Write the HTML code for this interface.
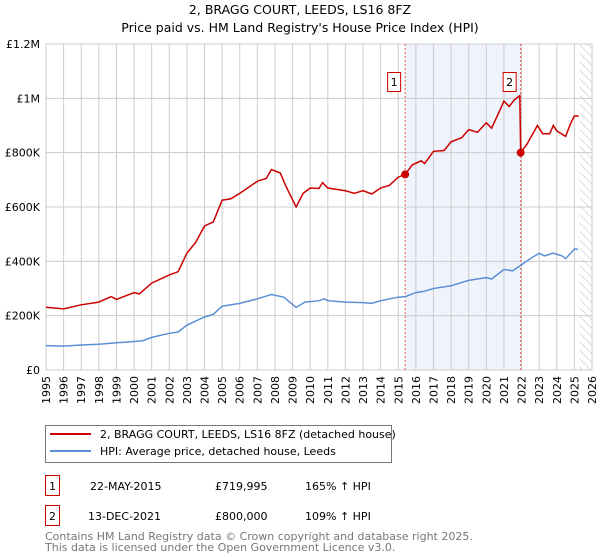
<!DOCTYPE html>
<html><head><meta charset="utf-8"><style>
body{margin:0;width:600px;height:560px;background:#fff;font-family:"DejaVu Sans","Liberation Sans",sans-serif;overflow:hidden}
svg{position:absolute;left:0;top:0}
</style></head><body>
<svg id="c" width="600" height="560">
<text x="300" y="14" text-anchor="middle" font-size="12.5">2, BRAGG COURT, LEEDS, LS16 8FZ</text>
<text x="300" y="32" text-anchor="middle" font-size="12.5">Price paid vs. HM Land Registry's House Price Index (HPI)</text>
<g id="plot"></g>
<g>
<rect x="45.5" y="425.5" width="346" height="37" fill="#fff" stroke="#777"/>
<line x1="50" y1="434" x2="91" y2="434" stroke="#cc0000" stroke-width="2"/>
<text x="100" y="438" font-size="11">2, BRAGG COURT, LEEDS, LS16 8FZ (detached house)</text>
<line x1="50" y1="451" x2="91" y2="451" stroke="#5b8fd6" stroke-width="2"/>
<text x="100" y="455" font-size="11">HPI: Average price, detached house, Leeds</text>
</g>
<g font-size="11">
<rect x="45.5" y="475.5" width="14" height="20" fill="#fff" stroke="#cc0000"/>
<text x="52.5" y="490" text-anchor="middle">1</text>
<text x="90" y="490">22-MAY-2015</text><text x="215" y="490">£719,995</text><text x="305" y="490">165% ↑ HPI</text>
<rect x="45.5" y="505.5" width="14" height="20" fill="#fff" stroke="#cc0000"/>
<text x="52.5" y="520" text-anchor="middle">2</text>
<text x="88" y="520">13-DEC-2021</text><text x="215" y="520">£800,000</text><text x="305" y="520">109% ↑ HPI</text>
</g>
<text x="45" y="540" font-size="11" fill="#777">Contains HM Land Registry data © Crown copyright and database right 2025.</text>
<text x="45" y="551" font-size="11" fill="#777">This data is licensed under the Open Government Licence v3.0.</text>
</svg>
<script>
const yTicks=[0,200,400,600,800,1000,1200];
const yTickLabels=["£0","£200K","£400K","£600K","£800K","£1M","£1.2M"];
const years=[1995,1996,1997,1998,1999,2000,2001,2002,2003,2004,2005,2006,2007,2008,2009,2010,2011,2012,2013,2014,2015,2016,2017,2018,2019,2020,2021,2022,2023,2024,2025,2026];
const hpiT=[1995,1996,1997,1998,1999,2000,2000.5,2001,2002,2002.5,2003,2004,2004.5,2005,2006,2007,2007.8,2008.5,2009.2,2009.7,2010.5,2010.8,2011,2012,2013,2013.5,2014,2015,2015.4,2016,2016.5,2017,2018,2019,2020,2020.3,2021,2021.5,2021.95,2022.5,2023,2023.3,2023.8,2024.3,2024.5,2025,2025.2];
const hpiV=[90,88,92,95,100,105,108,120,135,140,165,195,205,235,245,262,278,268,230,250,255,262,255,250,248,245,255,268,270,285,290,300,310,330,340,335,370,365,385,410,430,420,430,420,410,445,445];
const priceT=[1995,1996,1997,1998,1998.7,1999,2000,2000.3,2001,2002,2002.5,2003,2003.5,2004,2004.5,2005,2005.5,2006,2007,2007.5,2007.8,2008.3,2008.6,2009.2,2009.6,2010,2010.5,2010.7,2011,2012,2012.5,2013,2013.5,2014,2014.5,2015,2015.39,2015.8,2016.3,2016.5,2017,2017.6,2018,2018.6,2019,2019.5,2020,2020.3,2020.8,2021,2021.3,2021.6,2021.9,2021.95,2022.3,2022.9,2023.2,2023.6,2023.8,2024,2024.5,2024.8,2025,2025.25];
const priceV=[231,225,240,250,270,260,285,280,320,350,362,430,470,530,545,625,630,650,695,705,738,725,680,600,650,670,668,690,670,660,650,660,648,670,680,710,720,755,770,760,805,808,840,855,885,875,910,890,960,990,970,995,1010,800,830,900,870,870,900,880,860,910,935,935];
const salesT=[2015.39,2021.95];
const salesV=[719.995,800];
const saleLabels=["1","2"];
const X0=46,X1=592,Y0=370,Y1=44;
const x=t=>X0+(t-1995)*(X1-X0)/31;
const y=v=>Y0-v*(Y0-Y1)/1200;
const NS="http://www.w3.org/2000/svg";
const g=document.getElementById('plot');
function mk(tag,attrs,parent){const e=document.createElementNS(NS,tag);for(const k in attrs)e.setAttribute(k,attrs[k]);(parent||g).appendChild(e);return e;}
let sh=mk('rect',{x:x(salesT[0]),y:Y1,width:x(salesT[1])-x(salesT[0]),height:Y0-Y1,fill:'#eef3fc'});


const defs=mk('defs',{});
const pat=mk('pattern',{id:'h',width:6,height:6,patternUnits:'userSpaceOnUse',patternTransform:'rotate(-45)'},defs);
mk('line',{x1:0,y1:0,x2:0,y2:6,stroke:'#bbb','stroke-width':1},pat);
let hr=mk('rect',{x:x(2025.3),y:Y1,width:X1-x(2025.3),height:Y0-Y1,fill:'url(#h)'});


years.forEach(yr=>{
 let l=mk('line',{x1:x(yr),x2:x(yr),y1:Y1,y2:Y0,stroke:'#ccc'});
 
 
 let xx=x(yr)+4;
 let t=mk('text',{x:xx,y:376,'text-anchor':'end','font-size':'11',transform:'rotate(-90 '+xx+' 376)'});
 t.textContent=yr;
 
 
});
yTicks.forEach((v,i)=>{
 let l=mk('line',{x1:X0,x2:X1,y1:y(v),y2:y(v),stroke:'#ccc'});
 
 
 let t=mk('text',{x:X0-6,y:y(v)+4,'text-anchor':'end','font-size':'11'});
 t.textContent=yTickLabels[i];
 
 
});
mk('rect',{x:X0,y:Y1,width:X1-X0,height:Y0-Y1,fill:'none',stroke:'#ccc'});
salesT.forEach((t,i)=>{
 let l=mk('line',{x1:x(t),x2:x(t),y1:Y1,y2:Y0,stroke:'#e55','stroke-dasharray':'2,2'});
 
 
});
function path(T,V,color,name){
 let d=T.map((t,i)=>(i?'L':'M')+x(t).toFixed(1)+','+y(V[i]).toFixed(1)).join('');
 let p=mk('path',{d:d,fill:'none',stroke:color,'stroke-width':1.5});
 
 
}
path(hpiT,hpiV,'#5b8fd6','hpi-line');
path(priceT,priceV,'#cc0000','price-line');
salesT.forEach((t,i)=>{
 let c=mk('circle',{cx:x(t),cy:y(salesV[i]),r:4,fill:'#cc0000'});
 
 
 let r=mk('rect',{x:x(t)-17.5,y:72.5,width:13,height:19,fill:'#fff',stroke:'#cc0000'});
 
 
 let tx=mk('text',{x:x(t)-11,y:86,'text-anchor':'middle','font-size':'11'});
 tx.textContent=saleLabels[i];
 
 
});
</script>
</body></html>
